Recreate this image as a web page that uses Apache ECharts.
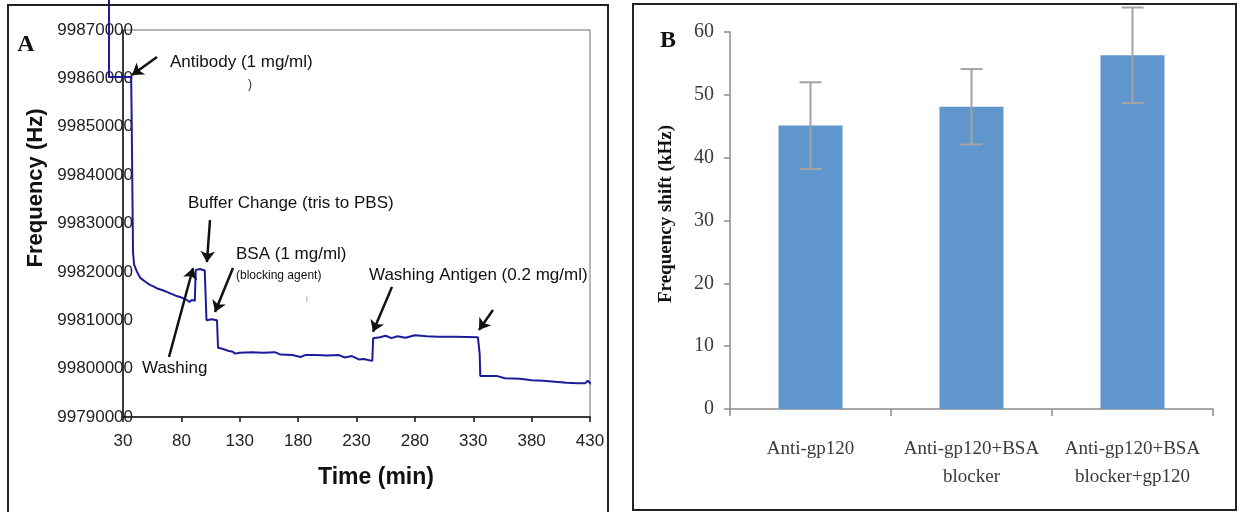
<!DOCTYPE html>
<html>
<head>
<meta charset="utf-8">
<script src="https://cdn.jsdelivr.net/npm/echarts@6/dist/echarts.min.js"></script>
<style>
  html, body { margin: 0; padding: 0; background: #fff; }
  #chart { width: 1241px; height: 512px; }
</style>
</head>
<body>
<div id="chart"></div>
<script>
// panel A: frequency trace, [time (min), frequency (Hz)]
const traceA = [
  [18, 99877000], [18, 99860300], [37, 99860300], [37.5, 99850000], [38, 99838000],
  [38.6, 99824000], [39.5, 99821500], [42, 99820000], [45, 99818700], [50, 99817800],
  [53, 99817300], [56, 99817000], [60, 99816500], [64, 99816200], [68, 99815800],
  [72, 99815400], [76, 99815000], [80, 99814700], [84, 99814300], [87, 99813800],
  [89, 99814200], [91.5, 99814000], [92.3, 99820400], [96, 99820600], [100, 99820300],
  [101.5, 99810000], [106, 99810200], [110.5, 99810000], [111.4, 99804300], [115, 99804100],
  [120, 99803700], [124, 99803500], [126, 99803100], [130, 99803300], [140, 99803400],
  [150, 99803300], [160, 99803400], [165, 99802900], [175, 99802800], [182, 99802400],
  [186, 99802800], [195, 99802800], [205, 99802700], [215, 99802800], [220, 99802300],
  [226, 99802600], [232, 99801900], [236, 99802000], [243.5, 99801600], [244.3, 99806300],
  [250, 99806500], [255, 99806800], [260, 99806300], [265, 99806700], [272, 99806400],
  [280, 99806900], [290, 99806700], [300, 99806600], [315, 99806600], [334, 99806500],
  [335.5, 99803000], [336, 99798500], [350, 99798500], [357, 99798000], [370, 99797900],
  [380, 99797600], [390, 99797500], [400, 99797300], [410, 99797100], [420, 99797000],
  [426, 99797000], [428, 99797500], [431, 99796800]
]
const timeStart = 30
const timeEnd = 430
const timeStep = 50
const freqMin = 99790000
const freqMax = 99870000
const freqStep = 10000
// annotation arrows, [tail, head] in data units
const arrowsA = [
  [[59.1, 99864400], [37.7, 99860700]],
  [[104.5, 99830700], [101.9, 99822000]],
  [[124.2, 99820800], [108.8, 99811700]],
  [[69.4, 99802400], [90.0, 99820800]],
  [[260.4, 99816900], [244.1, 99807600]],
  [[346.9, 99812100], [334.9, 99808000]]
]

// panel B
const groups = ['Anti-gp120', 'Anti-gp120+BSA\nblocker', 'Anti-gp120+BSA\nblocker+gp120']
const shifts = [45.1, 48.1, 56.3]
const shiftErrors = [6.9, 6.0, 7.6]

const sans = 'Liberation Sans, Arial, sans-serif'
const serif = 'Liberation Serif, Times New Roman, serif'
const traceColor = '#1c1c9a'

// x axis of A counts from 0 so ticks land on 30, 80, ... 430
const shifted = traceA.map(d => [d[0] - timeStart, d[1]])
// the start of the record lies left of / above the axes; drawn unclipped
const leadIn = shifted.slice(0, 3)
const arrowLines = arrowsA.map(a => [
  { coord: [a[0][0] - timeStart, a[0][1]] },
  { coord: [a[1][0] - timeStart, a[1][1]] }
])

const chart = echarts.init(document.getElementById('chart'))
chart.setOption({
  animation: false,
  grid: [
    { left: 123, top: 30, right: 651, bottom: 95, show: true, borderColor: '#a0a0a0', borderWidth: 1.5 },
    { left: 730, top: 32, right: 28, bottom: 103 }
  ],
  xAxis: [
    {
      gridIndex: 0,
      type: 'value',
      min: 0,
      max: timeEnd - timeStart,
      interval: timeStep,
      axisLine: { show: true, onZero: false, lineStyle: { color: '#111', width: 1.5 } },
      axisTick: { show: true, length: 5, lineStyle: { color: '#111', width: 1.5 } },
      axisLabel: { margin: 16, fontFamily: sans, fontSize: 17, color: '#222', formatter: v => String(v + timeStart) },
      splitLine: { show: false }
    },
    {
      gridIndex: 1,
      type: 'category',
      data: groups,
      axisLine: { lineStyle: { color: '#8c8c8c', width: 1.5 } },
      axisTick: { show: true, length: 7, lineStyle: { color: '#8c8c8c', width: 1.5 } },
      axisLabel: { margin: 26, fontFamily: serif, fontSize: 19, lineHeight: 28, color: '#3a3a3a', interval: 0 }
    }
  ],
  yAxis: [
    {
      gridIndex: 0,
      type: 'value',
      min: freqMin,
      max: freqMax,
      interval: freqStep,
      axisLine: { show: true, lineStyle: { color: '#111', width: 1.5 } },
      axisTick: { show: false },
      axisLabel: { margin: -10, fontFamily: sans, fontSize: 17, color: '#222', formatter: v => String(v) },
      splitLine: { show: false }
    },
    {
      gridIndex: 1,
      type: 'value',
      min: 0,
      max: 60,
      interval: 10,
      axisLine: { show: true, lineStyle: { color: '#8c8c8c', width: 1.5 } },
      axisTick: { show: true, length: 6, lineStyle: { color: '#8c8c8c', width: 1.5 } },
      axisLabel: { margin: 16, fontFamily: serif, fontSize: 20, color: '#3a3a3a' },
      splitLine: { show: false }
    }
  ],
  series: [
    {
      type: 'line',
      xAxisIndex: 0,
      yAxisIndex: 0,
      data: shifted,
      clip: false,
      showSymbol: false,
      symbol: 'none',
      lineStyle: { color: traceColor, width: 2 },
      markLine: {
        silent: true,
        symbol: ['none', 'arrow'],
        symbolSize: 11,
        label: { show: false },
        lineStyle: { color: '#111', width: 2.5, type: 'solid' },
        emphasis: { disabled: true },
        data: arrowLines
      }
    },
    {
      type: 'custom',
      xAxisIndex: 0,
      yAxisIndex: 0,
      data: leadIn,
      clip: false,
      silent: true,
      renderItem: function (params, api) {
        if (params.dataIndex !== 0) return null
        const pts = leadIn.map(d => api.coord(d))
        return { type: 'polyline', shape: { points: pts }, style: { stroke: traceColor, lineWidth: 2, fill: null } }
      }
    },
    {
      type: 'bar',
      xAxisIndex: 1,
      yAxisIndex: 1,
      data: shifts,
      barWidth: 64,
      itemStyle: { color: '#5f96cc' }
    },
    {
      type: 'custom',
      xAxisIndex: 1,
      yAxisIndex: 1,
      data: shifts.map((v, i) => [i, v - shiftErrors[i], v + shiftErrors[i]]),
      z: 5,
      renderItem: function (params, api) {
        const lo = api.coord([api.value(0), api.value(1)])
        const hi = api.coord([api.value(0), api.value(2)])
        const half = 11
        const style = { stroke: '#a3a3a3', lineWidth: 2 }
        return {
          type: 'group',
          children: [
            { type: 'line', shape: { x1: hi[0], y1: hi[1], x2: lo[0], y2: lo[1] }, style },
            { type: 'line', shape: { x1: hi[0] - half, y1: hi[1], x2: hi[0] + half, y2: hi[1] }, style },
            { type: 'line', shape: { x1: lo[0] - half, y1: lo[1], x2: lo[0] + half, y2: lo[1] }, style }
          ]
        }
      }
    }
  ],
  graphic: [
    { type: 'rect', z: 100, shape: { x: 8, y: 5, width: 600, height: 515 }, style: { fill: 'none', stroke: '#222', lineWidth: 2 } },
    { type: 'rect', z: 100, shape: { x: 633, y: 4, width: 603, height: 506 }, style: { fill: 'none', stroke: '#222', lineWidth: 2 } },
    // panel A texts
    { type: 'text', style: { text: 'A', x: 26, y: 45, font: 'bold 24px ' + serif, fill: '#111', textAlign: 'center', textVerticalAlign: 'middle' } },
    { type: 'text', x: 36, y: 188, rotation: Math.PI / 2, style: { text: 'Frequency (Hz)', font: 'bold 22px ' + sans, fill: '#111', textAlign: 'center', textVerticalAlign: 'middle' } },
    { type: 'text', style: { text: 'Time (min)', x: 376, y: 478, font: 'bold 23px ' + sans, fill: '#111', textAlign: 'center', textVerticalAlign: 'middle' } },
    { type: 'text', style: { text: 'Antibody (1 mg/ml)', x: 170, y: 62, font: '17px ' + sans, fill: '#111', textVerticalAlign: 'middle' } },
    { type: 'text', style: { text: ')', x: 250, y: 85, font: '12px ' + sans, fill: '#333', textAlign: 'center', textVerticalAlign: 'middle' } },
    { type: 'text', style: { text: 'Buffer Change (tris to PBS)', x: 188, y: 203, font: '17px ' + sans, fill: '#111', textVerticalAlign: 'middle' } },
    { type: 'text', style: { text: 'BSA (1 mg/ml)', x: 236, y: 254, font: '17px ' + sans, fill: '#111', textVerticalAlign: 'middle' } },
    { type: 'text', style: { text: '(blocking agent)', x: 236, y: 276, font: '12px ' + sans, fill: '#111', textVerticalAlign: 'middle' } },
    { type: 'text', style: { text: 'Washing Antigen (0.2 mg/ml)', x: 369, y: 275, font: '17px ' + sans, fill: '#111', textVerticalAlign: 'middle' } },
    { type: 'text', style: { text: 'Washing', x: 142, y: 368, font: '17px ' + sans, fill: '#111', textVerticalAlign: 'middle' } },
    { type: 'text', style: { text: 'ı', x: 307, y: 299, font: '10px ' + sans, fill: '#aaa', textAlign: 'center', textVerticalAlign: 'middle' } },
    // panel B texts
    { type: 'text', style: { text: 'B', x: 668, y: 41, font: 'bold 24px ' + serif, fill: '#111', textAlign: 'center', textVerticalAlign: 'middle' } },
    { type: 'text', x: 666, y: 214, rotation: Math.PI / 2, style: { text: 'Frequency shift (kHz)', font: 'bold 19px ' + serif, fill: '#111', textAlign: 'center', textVerticalAlign: 'middle' } }
  ]
})
</script>
</body>
</html>
